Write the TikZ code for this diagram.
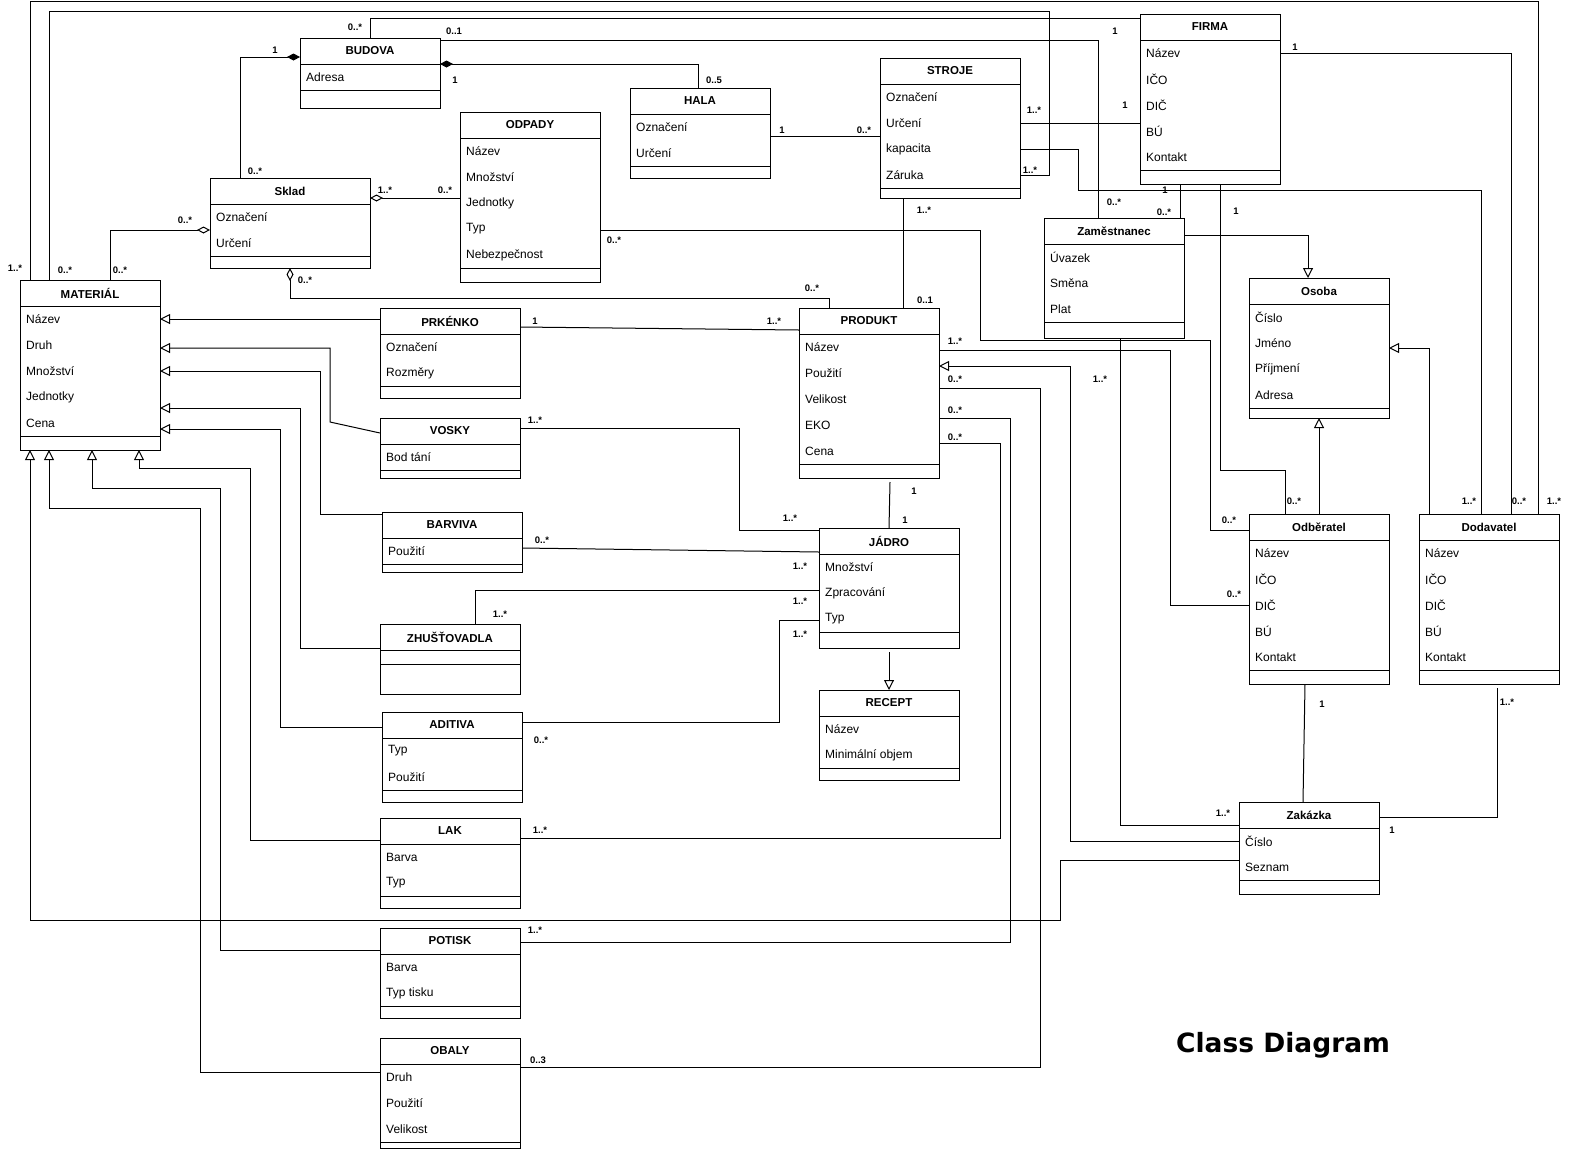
\documentclass[tikz,border=0pt]{standalone}
\usepackage{fontspec}
\setmainfont{Liberation Sans}
\newfontfamily\titlefont{DejaVu Sans}
\usetikzlibrary{arrows.meta,calc}
\tikzset{
 cbox/.style={draw, line width=1pt, anchor=north west, inner sep=0pt, outer sep=0pt, fill=white},
 ctitle/.style={font=\fontsize{11.5}{13}\selectfont\bfseries, inner sep=0pt},
 cattr/.style={anchor=west, inner xsep=6pt, inner ysep=0pt, font=\fontsize{12}{14}\selectfont},
 cl/.style={line width=1pt},
 conn/.style={line width=1pt},
 gen/.style={conn, -{Triangle[open, length=10pt, width=10pt, line width=1pt]}},
 agg/.style={conn, {Diamond[open, length=13pt, width=7pt, line width=1pt]}-},
 comp/.style={conn, {Diamond[length=13pt, width=7pt]}-},
 mult/.style={font=\fontsize{9.5}{11}\selectfont\bfseries, inner sep=0pt},
}
\newcommand\umlc[8]{%
  \node[cbox, minimum width=#4pt, minimum height=#5pt] (#1) at (#2,#3) {};
  \node[ctitle] (#1-t) at ($(#1.north)+(0,13)$) {#6};
  \draw[cl] ($(#1.north west)+(0,26)$) -- ($(#1.north east)+(0,26)$);
  \foreach \atxt [count=\i] in {#7} {\node[cattr] (#1-\i) at ($(#1.north west)+(0,13+26*\i)$) {\atxt};}
  \draw[cl] ($(#1.north west)+(0,#8)$) -- ($(#1.north east)+(0,#8)$);
}
\newcounter{mlc}
\newcommand\ml[2]{\stepcounter{mlc}\node[mult] (ml\arabic{mlc}) at (#1) {#2};}
\begin{document}
\begin{tikzpicture}[x=1pt,y=-1pt]
\fill[white] (0,0) rectangle (1570,1149);
\useasboundingbox (0,0) rectangle (1570,1149);

% classes
\umlc{bud}{300}{38}{140}{70}{BUDOVA}{Adresa}{52}
\umlc{hala}{630}{88}{140}{90}{HALA}{Označení,Určení}{78}
\umlc{odp}{460}{112}{140}{170}{ODPADY}{Název,Množství,Jednotky,Typ,Nebezpečnost}{156}
\umlc{stroje}{880}{58}{140}{140}{STROJE}{Označení,Určení,kapacita,Záruka}{130}
\umlc{firma}{1140}{14}{140}{170}{FIRMA}{Název,IČO,DIČ,BÚ,Kontakt}{156}
\umlc{sklad}{210}{178}{160}{90}{Sklad}{Označení,Určení}{78}
\umlc{mat}{20}{280}{140}{170}{MATERIÁL}{Název,Druh,Množství,Jednotky,Cena}{156}
\umlc{zam}{1044}{218}{140}{120}{Zaměstnanec}{Úvazek,Směna,Plat}{104}
\umlc{osoba}{1249}{278}{140}{140}{Osoba}{Číslo,Jméno,Příjmení,Adresa}{130}
\umlc{prk}{380}{308}{140}{90}{PRKÉNKO}{Označení,Rozměry}{78}
\umlc{prod}{799}{308}{140}{170}{PRODUKT}{Název,Použití,Velikost,EKO,Cena}{156}
\umlc{vosky}{380}{418}{140}{60}{VOSKY}{Bod tání}{52}
\umlc{barv}{382}{512}{140}{60}{BARVIVA}{Použití}{52}
\umlc{jadro}{819}{528}{140}{120}{JÁDRO}{Množství,Zpracování,Typ}{104}
\node[cbox, minimum width=140pt, minimum height=70pt] (zhus) at (380,624) {};
\node[ctitle] (zhus-t) at ($(zhus.north)+(0,13)$) {ZHUŠŤOVADLA};
\draw[cl] ($(zhus.north west)+(0,26)$) -- ($(zhus.north east)+(0,26)$);
\draw[cl] ($(zhus.north west)+(0,40)$) -- ($(zhus.north east)+(0,40)$);
\umlc{recept}{819}{690}{140}{90}{RECEPT}{Název,Minimální objem}{78}
\umlc{adit}{382}{712}{140}{90}{ADITIVA}{Typ,Použití}{78}
\umlc{lak}{380}{818}{140}{90}{LAK}{Barva,Typ}{78}
\umlc{potisk}{380}{928}{140}{90}{POTISK}{Barva,Typ tisku}{78}
\umlc{obaly}{380}{1038}{140}{110}{OBALY}{Druh,Použití,Velikost}{104}
\umlc{odb}{1249}{514}{140}{170}{Odběratel}{Název,IČO,DIČ,BÚ,Kontakt}{156}
\umlc{dod}{1419}{514}{140}{170}{Dodavatel}{Název,IČO,DIČ,BÚ,Kontakt}{156}
\umlc{zak}{1239}{802}{140}{92}{Zakázka}{Číslo,Seznam}{78}

% connectors
\draw[conn] ($(mat.north west)+(10,0)$) |- (1538,1) -- ($(dod.north east)+(-21,0)$);
\draw[conn] ($(mat.north west)+(29,0)$) |- (1049,11) |- (stroje.east |- stroje-4);
\draw[conn] (bud.north) |- ($(firma.north west)+(0,4)$);
\draw[conn] ($(bud.north east)+(0,2)$) -| ($(zam.north west)+(54,0)$);
\draw[comp] ($(bud.north east)+(0,26)$) -| ($(hala.north)+(-2,0)$);
\draw[comp] ($(bud.north west)+(0,19)$) -| ($(sklad.north west)+(30,0)$);
\draw[conn] ($(hala.north east)+(0,48)$) -- ($(stroje.north west)+(0,78)$);
\draw[agg] ($(sklad.north east)+(0,20)$) -- ($(odp.north west)+(0,86)$);
\draw[agg] ($(sklad.north west)+(0,52)$) -| ($(mat.north west)+(90,0)$);
\draw[agg] (sklad.south) -- ++(0,30) -| ($(prod.north west)+(30,0)$);
\draw[conn] ($(odp.north east)+(0,118)$) -| (980,340) -| (1210,530) -- ($(odb.north west)+(0,16)$);
\draw[conn] ($(stroje.south west)+(23,0)$) -- ($(prod.north west)+(104,0)$);
\draw[conn] (stroje.east |- stroje-2) -- (firma.west |- stroje-2);
\draw[conn] (stroje.east |- stroje-3) -| (1078,190) -| ($(dod.north west)+(62,0)$);
\draw[conn] (firma.east |- firma-1) -| ($(dod.north west)+(92,0)$);
\draw[conn] ($(firma.south west)+(40,0)$) -- ($(zam.north west)+(136,0)$);
\draw[conn] ($(firma.south west)+(80,0)$) |- (1285,470) -- ($(odb.north west)+(36,0)$);
\draw[gen] ($(zam.north east)+(0,17)$) -| ($(osoba.north west)+(59,0)$);
\draw[gen] ($(odb.north west)+(70,0)$) -- ($(osoba.south west)+(70,0)$);
\draw[gen] ($(dod.north west)+(10,0)$) |- ($(osoba.north east)+(0,70)$);
\draw[conn] ($(odb.south west)+(56,0)$) -- ($(zak.north west)+(64,0)$);
\draw[conn] ($(dod.south west)+(78,4)$) |- ($(zak.north east)+(0,15)$);
\draw[conn] ($(zam.south west)+(76,0)$) |- ($(zak.north west)+(0,23)$);
\draw[gen] (zak.west |- zak-1) -| (1070,366) -- ($(prod.north east)+(0,58)$);
\draw[gen] ($(zak.north west)+(0,58)$) -| (1060,920) -| ($(mat.south west)+(10,0)$);
\draw[conn] ($(prod.north east)+(0,42)$) -| (1170,605) -- (odb.west |- odb-3);
\draw[conn] ($(prod.north east)+(0,80)$) -| (1040,1067) -- ($(obaly.north east)+(0,29)$);
\draw[conn] ($(prod.north east)+(0,110)$) -| (1010,942) -- ($(potisk.north east)+(0,14)$);
\draw[conn] ($(prod.north east)+(0,135)$) -| (1000,838) -- ($(lak.north east)+(0,20)$);
\draw[conn] ($(prk.north east)+(0,19)$) -- ($(prod.north west)+(0,22)$);
\draw[conn] ($(vosky.north east)+(0,10)$) -| (739,530) -- ($(jadro.north west)+(0,2)$);
\draw[conn] ($(barv.north east)+(0,36)$) -- ($(jadro.north west)+(0,24)$);
\draw[conn] ($(zhus.north west)+(95,0)$) |- ($(jadro.north west)+(0,62)$);
\draw[conn] ($(adit.north east)+(0,10)$) -| (779,620) -- ($(jadro.north west)+(0,92)$);
\draw[conn] ($(prod.south)+(21,4)$) -- (jadro.north);
\draw[gen] ($(jadro.south)+(0,4)$) -- (recept.north);
\draw[gen] ($(prk.north west)+(0,11)$) -- (mat.east |- mat-1);
\draw[gen] ($(vosky.north west)+(0,15)$) -- (330,422) |- ($(mat.north east)+(0,68)$);
\draw[gen] ($(barv.north west)+(0,2)$) -| (320,371) -- ($(mat.north east)+(0,91)$);
\draw[gen] ($(zhus.north west)+(0,24)$) -| (300,408) -- ($(mat.north east)+(0,128)$);
\draw[gen] ($(adit.north west)+(0,15)$) -| (280,429) -- ($(mat.north east)+(0,149)$);
\draw[gen] ($(lak.north west)+(0,22)$) -| (250,468) -| ($(mat.south west)+(119,0)$);
\draw[gen] ($(potisk.north west)+(0,22)$) -| (220,488) -| ($(mat.south west)+(72,0)$);
\draw[gen] ($(obaly.north west)+(0,34)$) -| (200,508) -| ($(mat.south west)+(29,0)$);

% multiplicities
\ml{355,27}{0..*}
\ml{454,31}{0..1}
\ml{275,50}{1}
\ml{455,80}{1}
\ml{714,80}{0..5}
\ml{1115,31}{1}
\ml{1295,47}{1}
\ml{1034,110}{1..*}
\ml{1125,105}{1}
\ml{782,130}{1}
\ml{864,130}{0..*}
\ml{1030,170}{1..*}
\ml{255,171}{0..*}
\ml{385,190}{1..*}
\ml{445,190}{0..*}
\ml{1165,190}{1}
\ml{1114,202}{0..*}
\ml{1164,212}{0..*}
\ml{924,210}{1..*}
\ml{1236,211}{1}
\ml{185,220}{0..*}
\ml{614,240}{0..*}
\ml{15,268}{1..*}
\ml{65,270}{0..*}
\ml{120,270}{0..*}
\ml{305,280}{0..*}
\ml{812,288}{0..*}
\ml{925,300}{0..1}
\ml{535,321}{1}
\ml{774,321}{1..*}
\ml{955,341}{1..*}
\ml{955,379}{0..*}
\ml{1100,379}{1..*}
\ml{955,410}{0..*}
\ml{955,437}{0..*}
\ml{535,420}{1..*}
\ml{914,491}{1}
\ml{1469,501}{1..*}
\ml{1519,501}{0..*}
\ml{1554,501}{1..*}
\ml{1294,501}{0..*}
\ml{790,518}{1..*}
\ml{905,520}{1}
\ml{1229,520}{0..*}
\ml{542,540}{0..*}
\ml{800,566}{1..*}
\ml{1234,594}{0..*}
\ml{800,601}{1..*}
\ml{500,614}{1..*}
\ml{800,634}{1..*}
\ml{1322,704}{1}
\ml{1507,702}{1..*}
\ml{541,740}{0..*}
\ml{1223,813}{1..*}
\ml{1392,830}{1}
\ml{540,830}{1..*}
\ml{535,930}{1..*}
\ml{538,1060}{0..3}

\node[font=\titlefont\bfseries\fontsize{26.5}{30}\selectfont, inner sep=0pt] (title) at (1283,1045) {Class Diagram};
\end{tikzpicture}
\end{document}
